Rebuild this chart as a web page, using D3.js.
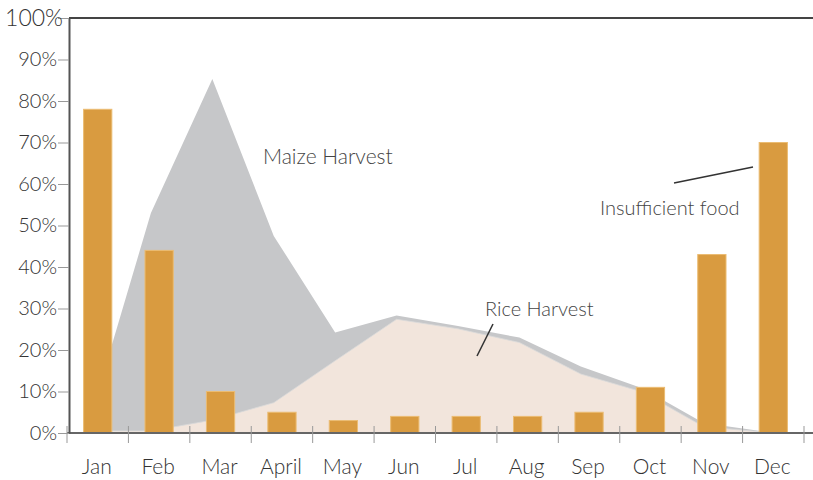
<!DOCTYPE html>
<html>
<head>
<meta charset="utf-8">
<script src="https://cdn.jsdelivr.net/npm/d3@7"></script>
<style>
  body { margin: 0; background: #fff; }
  svg { display: block; font-family: Lato, "Open Sans", sans-serif; font-weight: 300; }
  .tick text { fill: #333; }
</style>
</head>
<body>
<svg id="chart" width="813" height="480"></svg>
<script>
const months = ['Jan', 'Feb', 'Mar', 'April', 'May', 'Jun', 'Jul', 'Aug', 'Sep', 'Oct', 'Nov', 'Dec']
const insufficientFood = [78, 44, 10, 5, 3, 4, 4, 4, 5, 11, 43, 70]
const maizeHarvest = [3, 53, 85.3, 47.5, 24.2, 28.3, 25.8, 23, 16, 10.8, 2.4, 0.3]
const riceHarvest = [0.5, 0.5, 3.1, 7.3, 17.4, 27.4, 25.1, 21.8, 14.2, 9.9, 1.5, 0.2]
const yTicks = [0, 10, 20, 30, 40, 50, 60, 70, 80, 90, 100]

const svg = d3.select('#chart')
const width = 813

const x = d3.scaleBand()
  .domain(months)
  .range([67, 804])
  .paddingInner(0.54)
  .paddingOuter(0.27)

const step = x.step()
// the areas sit a little left of the bar centres in the original
const xa = d3.scalePoint()
  .domain(months)
  .range([67 + 22.5, 67 + 22.5 + step * 11])

const y = d3.scaleLinear()
  .domain([0, 100])
  .range([433, 18])

// areas
const area = d3.area()
  .x((d, i) => xa(months[i]))
  .y0(y(0))
  .y1(d => y(d))

svg.append('path')
  .datum(maizeHarvest)
  .attr('d', area)
  .attr('fill', '#c6c7c9')

svg.append('path')
  .datum(riceHarvest)
  .attr('d', area)
  .attr('fill', '#f2e5dc')
  .attr('stroke', '#dadada')
  .attr('stroke-width', 0.8)

// bars
svg.append('g')
  .selectAll('rect')
  .data(insufficientFood)
  .join('rect')
  .attr('x', (d, i) => x(months[i]))
  .attr('y', d => y(d))
  .attr('width', x.bandwidth())
  .attr('height', d => y(0) - y(d))
  .attr('fill', '#d99b40')
  .attr('stroke', '#ebbc72')
  .attr('stroke-width', 1)

// frame lines
svg.append('line')
  .attr('x1', 69).attr('x2', width)
  .attr('y1', y(100)).attr('y2', y(100))
  .attr('stroke', '#444').attr('stroke-width', 2)

svg.append('line')
  .attr('x1', 67).attr('x2', width)
  .attr('y1', y(0)).attr('y2', y(0))
  .attr('stroke', '#666').attr('stroke-width', 2)

// y axis
const yAxis = svg.append('g')
  .attr('transform', 'translate(69,0)')
  .call(d3.axisLeft(y)
    .tickValues(yTicks)
    .tickFormat(d => d + '%')
    .tickSize(11)
    .tickSizeOuter(0)
    .tickPadding(1))
  .attr('font-family', null)
  .attr('font-size', null)

yAxis.select('.domain').attr('stroke', '#555').attr('stroke-width', 2)
yAxis.selectAll('.tick line').attr('stroke', '#999')
yAxis.selectAll('.tick text').attr('font-size', 20)
yAxis.selectAll('.tick')
  .filter(d => d === 100)
  .select('text')
  .attr('font-size', 23)
  .attr('dx', 6)

// x axis ticks (on band edges) and labels
const edges = months.map(m => x(m) - x.step() * x.paddingInner() / 2)
edges.push(x.range()[1])

svg.append('g')
  .selectAll('line')
  .data(edges)
  .join('line')
  .attr('x1', d => d).attr('x2', d => d)
  .attr('y1', y(0) - 7).attr('y2', y(0) + 10)
  .attr('stroke', '#999')

svg.append('g')
  .selectAll('text')
  .data(months)
  .join('text')
  .attr('x', d => x(d) + x.bandwidth() / 2 - 1)
  .attr('y', 474)
  .attr('text-anchor', 'middle')
  .attr('font-size', 21)
  .attr('fill', '#333')
  .text(d => d)

// annotations
const notes = svg.append('g').attr('fill', '#444').attr('font-size', 20)

notes.append('text').attr('x', 263).attr('y', 164).attr('font-size', 21).text('Maize Harvest')
notes.append('text').attr('x', 485).attr('y', 316).text('Rice Harvest')
notes.append('text').attr('x', 600).attr('y', 215).text('Insufficient food')

svg.append('line')
  .attr('x1', 493).attr('y1', 324).attr('x2', 477).attr('y2', 356)
  .attr('stroke', '#333').attr('stroke-width', 1.5)

svg.append('line')
  .attr('x1', 674).attr('y1', 183).attr('x2', 753).attr('y2', 167)
  .attr('stroke', '#333').attr('stroke-width', 1.5)
</script>
</body>
</html>
